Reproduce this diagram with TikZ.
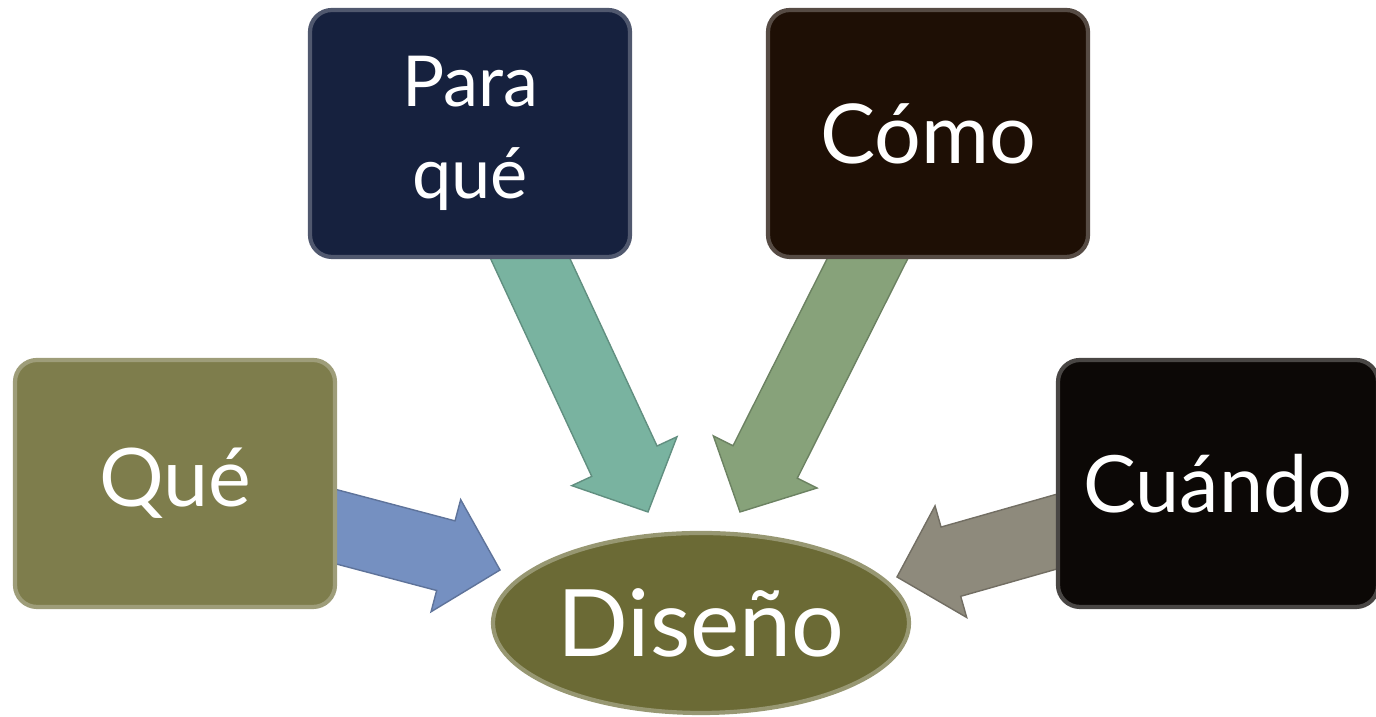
\documentclass[tikz,border=0pt]{standalone}
\usepackage{fontspec}
\setmainfont{Lato}
\usepackage{tikz}
\usetikzlibrary{calc,backgrounds,shapes.geometric}
\definecolor{queolive}{HTML}{7E7D4C}
\definecolor{paranavy}{HTML}{16213E}
\definecolor{comobrown}{HTML}{1E0F05}
\definecolor{cuandoblack}{HTML}{0C0806}
\definecolor{disenoolive}{HTML}{6B6A35}
\definecolor{arrblue}{HTML}{7590C1}
\definecolor{arrteal}{HTML}{79B3A0}
\definecolor{arrgreen}{HTML}{87A27A}
\definecolor{arrgray}{HTML}{8E8A7C}
\tikzset{
  qbox/.style={rounded corners=0.22cm, minimum width=3.2cm, minimum height=2.47cm,
    fill=#1, draw=#1!75!white, line width=1.2pt, text=white, align=center},
  qoval/.style={ellipse, inner sep=0pt, minimum width=4.16cm, minimum height=1.8cm,
    fill=disenoolive, draw=disenoolive!70!white, line width=1.2pt, text=white}
}
\newcommand\blockarrow[3]{
  \coordinate (hb) at ( $ (#3)!0.56cm!(#2) $ );
  \filldraw[fill=#1, draw=#1!80!black, line width=0.4pt]
    ( $ (#2)!0.36cm!90:(#3) $ ) -- ( $ (hb)!0.36cm!90:(#3) $ ) -- ( $ (hb)!0.58cm!90:(#3) $ ) -- (#3)
    -- ( $ (hb)!0.58cm!-90:(#3) $ ) -- ( $ (hb)!0.36cm!-90:(#3) $ ) -- ( $ (#2)!0.36cm!-90:(#3) $ ) -- cycle;
}
\begin{document}
\begin{tikzpicture}
      \useasboundingbox (0,0) rectangle (13.76,7.17);

      \node[qbox=queolive, font=\fontsize{23}{28}\selectfont] (que) at (1.75,2.335) {Qué};
      \node[qbox=paranavy, font=\fontsize{20}{26}\selectfont] (para) at (4.70,5.835) {Para\\qué};
      \node[qbox=comobrown, font=\fontsize{23.5}{28}\selectfont] (como) at (9.28,5.835) {Cómo};
      \node[qbox=cuandoblack, font=\fontsize{22.5}{28}\selectfont] (cuando) at (12.18,2.335) {Cuándo};
      \node[qoval, font=\fontsize{26.5}{32}\selectfont] (diseno) at (7.01,0.94) {Diseño};

      \coordinate (queTail) at (2.50,2.13);
      \coordinate (queTip) at (5.00,1.47);
      \coordinate (paraTail) at (5.03,5.17);
      \coordinate (paraTip) at (6.48,2.05);
      \coordinate (comoTail) at (8.97,5.17);
      \coordinate (comoTip) at (7.40,2.05);
      \coordinate (cuandoTail) at (11.40,2.09);
      \coordinate (cuandoTip) at (8.97,1.40);

      \begin{scope}[on background layer]
        \blockarrow{arrblue}{queTail}{queTip}
        \blockarrow{arrteal}{paraTail}{paraTip}
        \blockarrow{arrgreen}{comoTail}{comoTip}
        \blockarrow{arrgray}{cuandoTail}{cuandoTip}
      \end{scope}

    \end{tikzpicture}
\end{document}
